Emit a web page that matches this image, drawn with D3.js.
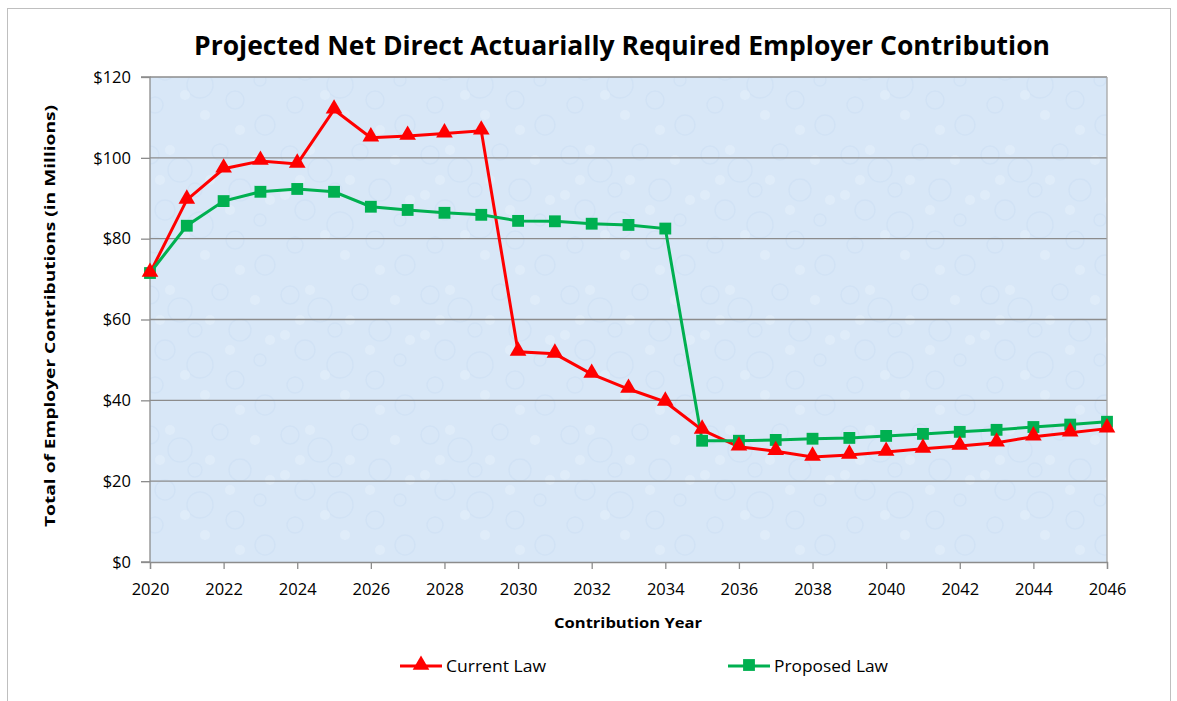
<!DOCTYPE html>
<html><head><meta charset="utf-8">
<script src="https://cdn.jsdelivr.net/npm/d3@7/dist/d3.min.js"></script>
<style>body{margin:0;background:#fff;} svg{display:block;font-family:"Open Sans","DejaVu Sans",sans-serif;}</style>
</head><body>
<svg id="chart" width="1177" height="701"></svg>
<script>
const years = d3.range(2020, 2047);
const currentLaw = [71.5, 89.6, 97.3, 99.2, 98.5, 111.9, 105.0, 105.4, 106.0, 106.7, 52.0, 51.5, 46.5, 42.8, 39.6, 32.7, 28.5, 27.4, 26.0, 26.5, 27.2, 28.0, 28.7, 29.5, 31.0, 32.0, 33.0];
const proposedLaw = [71.5, 83.2, 89.3, 91.6, 92.3, 91.6, 87.9, 87.1, 86.4, 85.9, 84.4, 84.3, 83.7, 83.4, 82.5, 30.0, 30.0, 30.2, 30.5, 30.7, 31.2, 31.7, 32.2, 32.7, 33.4, 34.0, 34.7];
const yTicks = [0, 20, 40, 60, 80, 100, 120];
const xTicks = d3.range(2020, 2047, 2);
const seriesNames = ["Current Law", "Proposed Law"];

const svg = d3.select("#chart");
const L = 150, R = 1107, T = 77, B = 562;
const x = d3.scaleLinear().domain([2020, 2046]).range([L, R]);
const y = d3.scaleLinear().domain([0, 120]).range([B, T]);

// outer border
svg.append("rect").attr("x", 7.5).attr("y", 8.5).attr("width", 1163).attr("height", 700).attr("fill", "#fff").attr("stroke", "#bfbfbf");

// subtle texture pattern
const defs = svg.append("defs");
const pat = defs.append("pattern").attr("id", "tex").attr("patternUnits", "userSpaceOnUse").attr("width", 140).attr("height", 140);
pat.append("rect").attr("width", 140).attr("height", 140).attr("fill", "#d8e7f7");
const blobs = [[10,15,9],[40,30,12],[80,12,8],[100,50,11],[25,70,10],[60,85,13],[95,100,9],[15,105,8],[55,50,7],[120,80,6],[125,125,10]];
blobs.forEach(b => pat.append("circle").attr("cx", b[0]).attr("cy", b[1]).attr("r", b[2]).attr("fill", "none").attr("stroke", "#cddff3").attr("stroke-width", 1.5).attr("opacity", 0.6));
const dots = [[30,10],[70,40],[5,55],[90,70],[45,95],[115,20],[65,115],[20,40],[130,60],[100,130]];
dots.forEach(b => pat.append("circle").attr("cx", b[0]).attr("cy", b[1]).attr("r", 5).attr("fill", "#e3eefa").attr("opacity", 0.7));

svg.append("rect").attr("x", L).attr("y", T).attr("width", R - L).attr("height", B - T).attr("fill", "url(#tex)");

// gridlines
svg.append("g").selectAll("line").data(yTicks.filter(d => d > 0)).join("line")
  .attr("x1", L).attr("x2", R).attr("y1", d => y(d)).attr("y2", d => y(d))
  .attr("stroke", "#8c8c8c").attr("stroke-width", 1.3);
// right border
svg.append("line").attr("x1", R).attr("x2", R).attr("y1", T).attr("y2", B).attr("stroke", "#a6a6a6").attr("stroke-width", 1.3);

// axes
const yAxis = d3.axisLeft(y).tickValues(yTicks).tickFormat(d => "$" + d).tickSize(9).tickPadding(10);
const gy = svg.append("g").attr("transform", `translate(${L},0)`).call(yAxis);
const xAxis = d3.axisBottom(x).tickValues(xTicks).tickFormat(d3.format("d")).tickSize(7).tickPadding(14);
const gx = svg.append("g").attr("transform", `translate(0,${B})`).call(xAxis);
[gx, gy].forEach(g => {
  g.attr("font-family", null).attr("font-size", null);
  g.select(".domain").attr("stroke", "#8c8c8c").attr("stroke-width", 1.3);
  g.selectAll(".tick line").attr("stroke", "#8c8c8c").attr("stroke-width", 1.3);
  g.selectAll(".tick text").attr("fill", "#000").style("font-size", "16.5px");
});
gy.select(".domain").attr("d", `M-9,${T}H0V${B}H-9`);

// lines
const line = d3.line().x((d, i) => x(years[i])).y(d => y(d));
const colors = ["#ff0000", "#00b050"];
[currentLaw, proposedLaw].forEach((s, k) => {
  svg.append("path").datum(s).attr("d", line).attr("fill", "none").attr("stroke", colors[k]).attr("stroke-width", 3);
});
const tri = d3.symbol().type(d3.symbolTriangle).size(120);
const sq = d3.symbol().type(d3.symbolSquare).size(140);
svg.append("g").selectAll("path").data(proposedLaw).join("path")
  .attr("d", sq).attr("transform", (d, i) => `translate(${x(years[i])},${y(d)})`).attr("fill", colors[1]);
svg.append("g").selectAll("path").data(currentLaw).join("path")
  .attr("d", tri).attr("transform", (d, i) => `translate(${x(years[i])},${y(d) - 1})`).attr("fill", colors[0]);

// title
svg.append("text").attr("x", 622).attr("y", 55).attr("text-anchor", "middle")
  .style("font-size", "27px").style("font-weight", "bold")
  .attr("textLength", 856).attr("lengthAdjust", "spacingAndGlyphs")
  .text("Projected Net Direct Actuarially  Required Employer Contribution");

// axis titles
svg.append("text").attr("transform", "translate(55,316) rotate(-90)").attr("text-anchor", "middle")
  .style("font-size", "15px").style("font-weight", "bold")
  .attr("textLength", 422).attr("lengthAdjust", "spacingAndGlyphs")
  .text("Total of Employer Contributions (in Millions)");
svg.append("text").attr("x", 628).attr("y", 628).attr("text-anchor", "middle")
  .style("font-size", "15px").style("font-weight", "bold")
  .attr("textLength", 148).attr("lengthAdjust", "spacingAndGlyphs")
  .text("Contribution Year");

// legend
const legend = [{x: 400, name: seriesNames[0], c: colors[0], sym: tri, w: 100}, {x: 728, name: seriesNames[1], c: colors[1], sym: sq, w: 114}];
legend.forEach(l => {
  svg.append("line").attr("x1", l.x).attr("x2", l.x + 42).attr("y1", 666).attr("y2", 666).attr("stroke", l.c).attr("stroke-width", 3);
  svg.append("path").attr("d", l.sym).attr("transform", `translate(${l.x + 21},665)`).attr("fill", l.c);
  svg.append("text").attr("x", l.x + 46).attr("y", 672).style("font-size", "16px")
    .attr("textLength", l.w).attr("lengthAdjust", "spacingAndGlyphs").text(l.name);
});
</script>
</body></html>
